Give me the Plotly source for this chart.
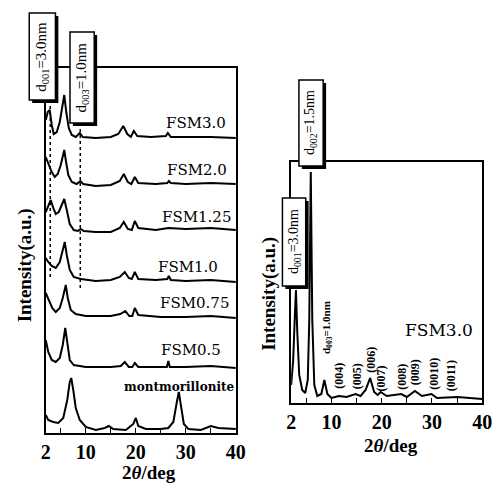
import plotly.graph_objects as go

W, H = 501, 483

# ---------------- left panel data (2theta in deg, intensity a.u. stacked) -------------
fsm30_tt = [2.0, 2.4, 2.8, 3.2, 3.6, 4.2, 4.8, 5.3, 5.7, 6.1, 6.6, 7.2, 8.0, 8.8, 9.4, 12, 15, 16.5, 17.5, 18.3, 19.0, 19.6, 20.3, 23, 26, 26.4, 27, 30, 35, 40]
fsm30_i = [313, 321, 323, 308, 299, 301, 311, 325, 338, 321, 305, 298, 296, 300, 296, 295, 296, 299, 307, 299, 296, 302, 297, 296, 297, 300, 296, 296, 296, 295]

fsm20_tt = [2.0, 2.6, 3.2, 3.8, 4.4, 5.0, 5.4, 5.7, 6.0, 6.5, 7.2, 8.2, 8.9, 9.5, 12, 15, 16.8, 17.6, 18.4, 19.1, 19.8, 20.5, 24, 26.3, 26.6, 27, 30, 35, 40]
fsm20_i = [276, 268, 261, 256, 259, 268, 277, 283, 273, 258, 251, 249, 252, 249, 247, 248, 252, 259, 251, 249, 256, 250, 249, 250, 252, 250, 249, 250, 249]

fsm125_tt = [2.0, 2.5, 3.0, 3.5, 4.0, 4.6, 5.2, 5.7, 6.2, 6.8, 7.6, 8.4, 9.0, 9.6, 12, 15, 16.8, 17.6, 18.4, 19.2, 19.8, 20.5, 24, 26.5, 30, 35, 40]
fsm125_i = [221, 228, 233, 225, 219, 221, 229, 234, 223, 209, 203, 202, 204, 202, 201, 201, 205, 211, 204, 203, 212, 205, 203, 205, 204, 205, 203]

fsm10_tt = [2.0, 2.5, 3.2, 4.0, 4.8, 5.3, 5.8, 6.2, 6.8, 7.6, 9, 12, 15, 16.8, 17.8, 18.6, 19.2, 19.8, 20.5, 24, 26.3, 26.6, 27, 30, 35, 40]
fsm10_i = [175, 171, 167, 165, 171, 181, 191, 178, 163, 156, 154, 152, 153, 156, 161, 155, 154, 161, 154, 153, 154, 157, 153, 152, 153, 151]

fsm075_tt = [2.0, 2.6, 3.3, 4.0, 4.8, 5.4, 6.0, 6.4, 7.0, 8.0, 10, 15, 16.9, 17.9, 18.7, 19.3, 19.8, 20.5, 25, 30, 35, 40]
fsm075_i = [140, 133, 125, 121, 125, 135, 148, 135, 123, 119, 117, 117, 119, 122, 117, 117, 125, 118, 116, 116, 117, 115]

fsm05_tt = [2.0, 2.5, 3.2, 4.0, 4.8, 5.4, 5.9, 6.3, 6.8, 7.6, 10, 15, 17.0, 17.8, 18.6, 19.3, 19.8, 20.5, 24, 26.2, 26.5, 26.8, 30, 35, 40]
fsm05_i = [93, 81, 73, 71, 75, 88, 105, 88, 73, 68, 66, 66, 67, 71, 66, 66, 70, 66, 66, 66, 72, 66, 66, 67, 65]

mont_tt = [2.0, 2.5, 3.5, 4.5, 5.5, 6.3, 6.8, 7.1, 7.5, 8.0, 8.8, 10, 12, 13.8, 14.6, 15.5, 18, 19.5, 20.0, 20.5, 22, 25, 26.5, 27.5, 28.2, 28.6, 29.0, 29.6, 30.5, 33, 35, 36.5, 40]
mont_i = [18, 13, 11, 10, 15, 33, 51, 55, 43, 25, 13, 6, 3, 5, 7, 4, 3, 9, 15, 7, 4, 4, 5, 11, 31, 41, 28, 9, 4, 3, 7, 5, 4]

left_series = [fsm30_tt, fsm20_tt, fsm125_tt, fsm10_tt, fsm075_tt, fsm05_tt, mont_tt]
left_values = [fsm30_i, fsm20_i, fsm125_i, fsm10_i, fsm075_i, fsm05_i, mont_i]
left_names = ["FSM3.0", "FSM2.0", "FSM1.25", "FSM1.0", "FSM0.75", "FSM0.5", "montmorillonite"]

# dotted guide lines (2theta, top, bottom)
guide_tt = [2.9, 8.9]
guide_top = [333, 310]
guide_bottom = [155, 145]

# ---------------- right panel data ----------------
r_tt = [2.0, 2.4, 2.7, 2.95, 3.2, 3.6, 4.2, 4.8, 5.3, 5.6, 5.9, 6.2, 6.6, 7.2, 8.0, 8.6, 9.2, 10, 11.5, 13, 14.8, 15.8, 16.8, 17.7, 18.5, 19.2, 19.8, 21, 23.9, 25, 26.6, 28, 29.9, 31, 35, 40]
r_i = [18, 43, 83, 113, 73, 28, 13, 10, 23, 83, 231, 83, 18, 7, 9, 23, 9, 5, 7, 6, 9, 7, 13, 25, 11, 8, 11, 7, 9, 6, 12, 7, 9, 5, 6, 4]

tick_vals = [2, 10, 20, 30, 40]
tick_text = ["2", "10", "20", "30", "40"]

SERIF = "Liberation Serif"
SERIF2 = "DejaVu Serif"


def px(x):
    return x / W


def py(y):
    return 1 - y / H


fig = go.Figure()
for tt, iv in zip(left_series, left_values):
    fig.add_trace(go.Scatter(x=tt, y=iv, mode="lines", line=dict(color="black", width=2),
                             xaxis="x", yaxis="y", showlegend=False, hoverinfo="skip"))
for gx, gt, gb in zip(guide_tt, guide_top, guide_bottom):
    fig.add_trace(go.Scatter(x=[gx, gx], y=[gt, gb], mode="lines",
                             line=dict(color="black", width=1.5, dash="dot"),
                             xaxis="x", yaxis="y", showlegend=False, hoverinfo="skip"))
fig.add_trace(go.Scatter(x=r_tt, y=r_i, mode="lines", line=dict(color="black", width=2),
                         xaxis="x2", yaxis="y2", showlegend=False, hoverinfo="skip"))

axis_common = dict(showline=True, linecolor="black", linewidth=1.6, mirror=True,
                   showgrid=False, zeroline=False)
xcommon = dict(axis_common, range=[2, 40], tickmode="array", tickvals=tick_vals, ticktext=tick_text,
               ticks="inside", ticklen=5, tickcolor="black", tickwidth=1.2,
               tickfont=dict(family=SERIF, size=20, color="black", weight="bold"),
               minor=dict(dtick=5, tick0=0, ticks="inside", ticklen=5, tickcolor="black"))
ycommon = dict(axis_common, showticklabels=False, ticks="")

fig.update_layout(
    width=W, height=H, autosize=False,
    margin=dict(l=0, r=0, t=0, b=0),
    paper_bgcolor="white", plot_bgcolor="white",
    xaxis=dict(xcommon, domain=[px(42), px(238)], anchor="y"),
    yaxis=dict(ycommon, domain=[py(433), py(68)], range=[0, 365], anchor="x"),
    xaxis2=dict(xcommon, domain=[px(295), px(492)], anchor="y2"),
    yaxis2=dict(ycommon, domain=[py(403), py(162)], range=[0, 241], anchor="x2"),
)

shapes = []
annotations = []

# boxed rotated labels: (x0, y0, x1, y1, text, size)
boxes = [
    (25, 13, 52, 100, "d<sub>001</sub>=3.0nm", 15),
    (67, 32, 92, 123, "d<sub>003</sub>=1.0nm", 15),
    (286, 198, 310, 286, "d<sub>001</sub>=3.0nm", 14),
    (303, 80, 328, 166, "d<sub>002</sub>=1.5nm", 14),
]
for x0, y0, x1, y1, txt, sz in boxes:
    shapes.append(dict(type="rect", xref="paper", yref="paper", x0=px(x0 + 3), x1=px(x1 + 3),
                       y0=py(y0 + 3), y1=py(y1 + 3), fillcolor="black", line=dict(width=0)))
    shapes.append(dict(type="rect", xref="paper", yref="paper", x0=px(x0), x1=px(x1),
                       y0=py(y0), y1=py(y1), fillcolor="white", line=dict(color="black", width=1.5)))
    annotations.append(dict(xref="paper", yref="paper", x=px((x0 + x1) / 2), y=py((y0 + y1) / 2),
                            text=txt, textangle=-90, showarrow=False,
                            font=dict(family=SERIF, size=sz, color="black"),
                            xanchor="center", yanchor="middle"))

# left sample labels
label_pos = [(197, 123), (198, 170), (197, 217), (189, 267), (195, 303), (192, 350), (179, 387)]
for name, (cx, cy) in zip(left_names, label_pos):
    sz = 12 if name == "montmorillonite" else 15
    wt = "bold" if name == "montmorillonite" else "normal"
    annotations.append(dict(xref="paper", yref="paper", x=px(cx), y=py(cy), text=name, showarrow=False,
                            font=dict(family=SERIF2, size=sz, color="black", weight=wt),
                            xanchor="center", yanchor="middle"))

annotations.append(dict(xref="paper", yref="paper", x=px(447), y=py(330), text="FSM3.0", showarrow=False,
                        font=dict(family=SERIF2, size=17, color="black"), xanchor="center", yanchor="middle"))

# small rotated peak labels in right panel
peak_labels = ["d<sub>003</sub>=1.0nm", "(004)", "(005)", "(006)", "(007)", "(008)", "(009)", "(0010)", "(0011)"]
peak_pos = [(332, 328), (344, 376), (363, 376), (377, 360), (388, 378), (409, 377), (423, 372), (442, 374), (460, 376)]
for t, (cx, cy) in zip(peak_labels, peak_pos):
    annotations.append(dict(xref="paper", yref="paper", x=px(cx), y=py(cy), text=t, textangle=-90,
                            showarrow=False, font=dict(family=SERIF, size=12 if t.startswith("(") else 11,
                                                       color="black", weight="bold"),
                            xanchor="center", yanchor="middle"))

# axis titles
for cx, cy in [(21, 265), (272, 294)]:
    annotations.append(dict(xref="paper", yref="paper", x=px(cx), y=py(cy), text="Intensity(a.u.)",
                            textangle=-90, showarrow=False,
                            font=dict(family=SERIF, size=19, color="black", weight="bold"),
                            xanchor="center", yanchor="middle"))
for cx, cy in [(148, 472), (398, 445)]:
    annotations.append(dict(xref="paper", yref="paper", x=px(cx), y=py(cy), text="2<i>θ</i>/deg",
                            showarrow=False, font=dict(family=SERIF, size=19, color="black", weight="bold"),
                            xanchor="center", yanchor="middle"))

fig.update_layout(shapes=shapes, annotations=annotations)
fig.write_html("out.html", config={"displayModeBar": False},
               post_script="document.body.style.margin='0';document.body.style.padding='0';")
